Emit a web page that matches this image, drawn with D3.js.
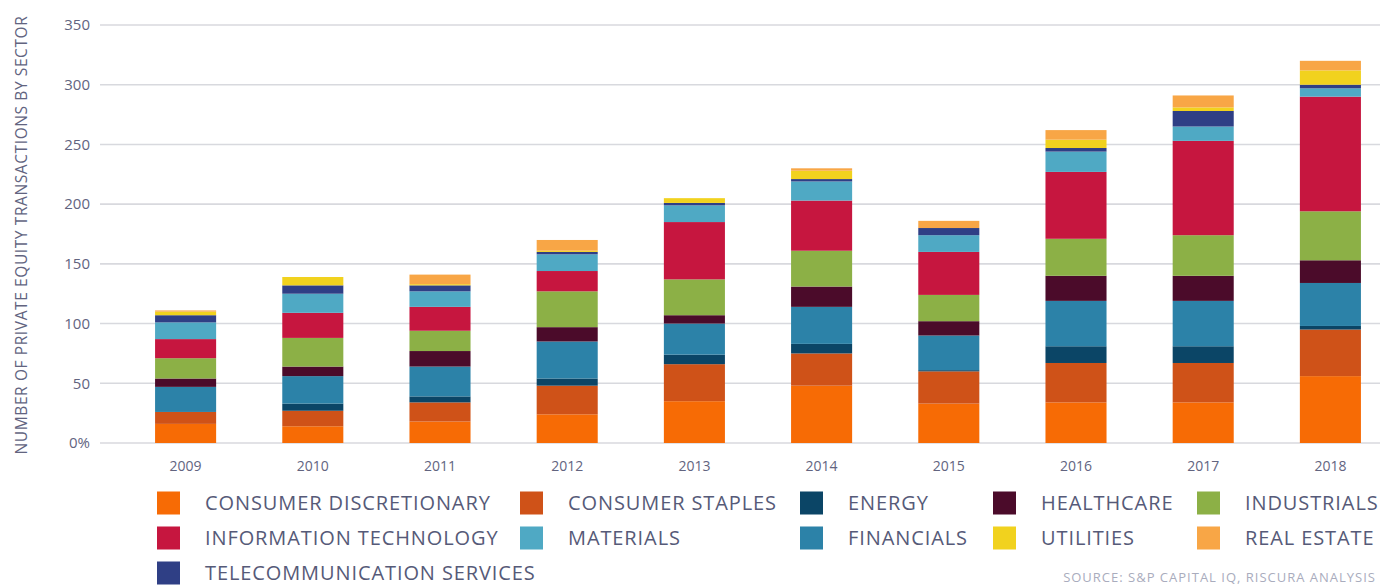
<!DOCTYPE html>
<html>
<head>
<meta charset="utf-8">
<script src="https://cdn.jsdelivr.net/npm/d3@7"></script>
<style>
  html, body { margin: 0; padding: 0; background: #ffffff; }
  svg { display: block; }
  text { font-family: "Open Sans", "Lato", "DejaVu Sans", sans-serif; }
</style>
</head>
<body>
<svg id="chart" width="1380" height="585"></svg>
<script>
// Years on the x axis
const years = ["2009", "2010", "2011", "2012", "2013", "2014", "2015", "2016", "2017", "2018"];

// Sectors, bottom of the stack first
const sectors = [
  "CONSUMER DISCRETIONARY", "CONSUMER STAPLES", "ENERGY", "FINANCIALS", "HEALTHCARE",
  "INDUSTRIALS", "INFORMATION TECHNOLOGY", "MATERIALS", "TELECOMMUNICATION SERVICES",
  "UTILITIES", "REAL ESTATE"
];

// Number of transactions per sector, one value per year
const consumerDiscretionary = [16, 14, 18, 24, 35, 48, 33, 34, 34, 56];
const consumerStaples       = [10, 13, 16, 24, 31, 27, 27, 33, 33, 39];
const energy                = [0, 6, 5, 6, 8, 8, 1, 14, 14, 3];
const financials            = [21, 23, 25, 31, 26, 31, 29, 38, 38, 36];
const healthcare            = [7, 8, 13, 12, 7, 17, 12, 21, 21, 19];
const industrials           = [17, 24, 17, 30, 30, 30, 22, 31, 34, 41];
const informationTechnology = [16, 21, 20, 17, 48, 42, 36, 56, 79, 96];
const materials             = [14, 16, 13, 14, 14, 16, 14, 17, 12, 7];
const telecommunication     = [6, 7, 5, 2, 2, 2, 6, 3, 13, 3];
const utilities             = [3, 7, 1, 1, 4, 7, 0, 7, 3, 12];
const realEstate            = [1, 0, 8, 9, 0, 2, 6, 8, 10, 8];

const sectorValues = [
  consumerDiscretionary, consumerStaples, energy, financials, healthcare,
  industrials, informationTechnology, materials, telecommunication, utilities, realEstate
];

const sectorColors = [
  "#f76b05", "#cf5218", "#0b4566", "#2c82a8", "#4b0b2a",
  "#8cb046", "#c6163f", "#4fa9c4", "#2f3f85", "#f1d21e", "#f8a646"
];

// Y axis ticks and their labels
const yTicks = [0, 50, 100, 150, 200, 250, 300, 350];
const yTickLabels = ["0%", "50", "100", "150", "200", "250", "300", "350"];

// Legend layout: rows of sector names, read left to right
const legendRows = [
  ["CONSUMER DISCRETIONARY", "CONSUMER STAPLES", "ENERGY", "HEALTHCARE", "INDUSTRIALS"],
  ["INFORMATION TECHNOLOGY", "MATERIALS", "FINANCIALS", "UTILITIES", "REAL ESTATE"],
  ["TELECOMMUNICATION SERVICES"]
];

const yAxisTitle = "NUMBER OF PRIVATE EQUITY TRANSACTIONS BY SECTOR";
const sourceNote = "SOURCE: S&P CAPITAL IQ, RISCURA ANALYSIS";

// ---------------------------------------------------------------
const svg = d3.select("#chart");
const textColor = "#62647f";

// Table of rows for d3.stack
const table = years.map((yr, i) => {
  const row = { year: yr };
  sectors.forEach((s, k) => { row[s] = sectorValues[k][i]; });
  return row;
});

const stacked = d3.stack().keys(sectors)(table);

const x = d3.scaleBand()
  .domain(years)
  .range([122, 1394])
  .paddingInner(0.52)
  .paddingOuter(0.26);

const y = d3.scaleLinear()
  .domain([0, 350])
  .range([443, 25]);

const color = d3.scaleOrdinal().domain(sectors).range(sectorColors);

// Gridlines
const grid = svg.append("g").attr("class", "grid");
grid.selectAll("line")
  .data(yTicks)
  .join("line")
  .attr("x1", 100)
  .attr("x2", 1380)
  .attr("y1", d => y(d))
  .attr("y2", d => y(d))
  .attr("stroke", "#d8d9de")
  .attr("stroke-width", 1.6);

// Y axis labels
const yAxis = d3.axisLeft(y)
  .tickValues(yTicks)
  .tickFormat((d, i) => yTickLabels[i])
  .tickSize(0)
  .tickPadding(0);

svg.append("g")
  .attr("transform", "translate(90,0)")
  .call(yAxis)
  .call(g => g.select(".domain").remove())
  .call(g => g.selectAll("text")
    .attr("fill", textColor)
    .style("font-size", "15px")
    .style("font-family", "\"Open Sans\", Lato, sans-serif"));

// Y axis title
svg.append("text")
  .attr("transform", "translate(27,235) rotate(-90)")
  .attr("text-anchor", "middle")
  .attr("fill", textColor)
  .style("font-size", "15.5px")
  .style("letter-spacing", "0.6px")
  .text(yAxisTitle);

// Stacked bars
svg.append("g")
  .selectAll("g")
  .data(stacked)
  .join("g")
  .attr("fill", d => color(d.key))
  .selectAll("rect")
  .data(d => d)
  .join("rect")
  .attr("x", d => x(d.data.year))
  .attr("width", x.bandwidth())
  .attr("y", d => y(d[1]))
  .attr("height", d => y(d[0]) - y(d[1]));

// X axis labels
const xAxis = d3.axisBottom(x).tickSize(0).tickPadding(0);
svg.append("g")
  .attr("transform", "translate(0,461)")
  .call(xAxis)
  .call(g => g.select(".domain").remove())
  .call(g => g.selectAll("text")
    .attr("fill", textColor)
    .style("font-size", "14px")
    .style("font-family", "\"Open Sans\", Lato, sans-serif"));

// Legend
const legendCols = [157, 520, 800, 993, 1197];
const legendRowY = [503, 538, 573];
const legendItems = [];
legendRows.forEach((row, r) => row.forEach((name, c) => legendItems.push({ name, r, c })));

const legend = svg.append("g").attr("class", "legend");
const item = legend.selectAll("g")
  .data(legendItems)
  .join("g")
  .attr("transform", d => `translate(${legendCols[d.c]},${legendRowY[d.r]})`);

item.append("rect")
  .attr("x", 0)
  .attr("y", -11.5)
  .attr("width", 23)
  .attr("height", 23)
  .attr("fill", d => color(d.name));

item.append("text")
  .attr("x", 48)
  .attr("y", 0)
  .attr("dy", "0.36em")
  .attr("fill", "#565a78")
  .style("font-size", "20px")
  .style("letter-spacing", "0.9px")
  .text(d => d.name);

// Source note
svg.append("text")
  .attr("x", 1376)
  .attr("y", 582)
  .attr("text-anchor", "end")
  .attr("fill", "#a9acbd")
  .style("font-size", "13px")
  .style("letter-spacing", "1px")
  .text(sourceNote);
</script>
</body>
</html>
